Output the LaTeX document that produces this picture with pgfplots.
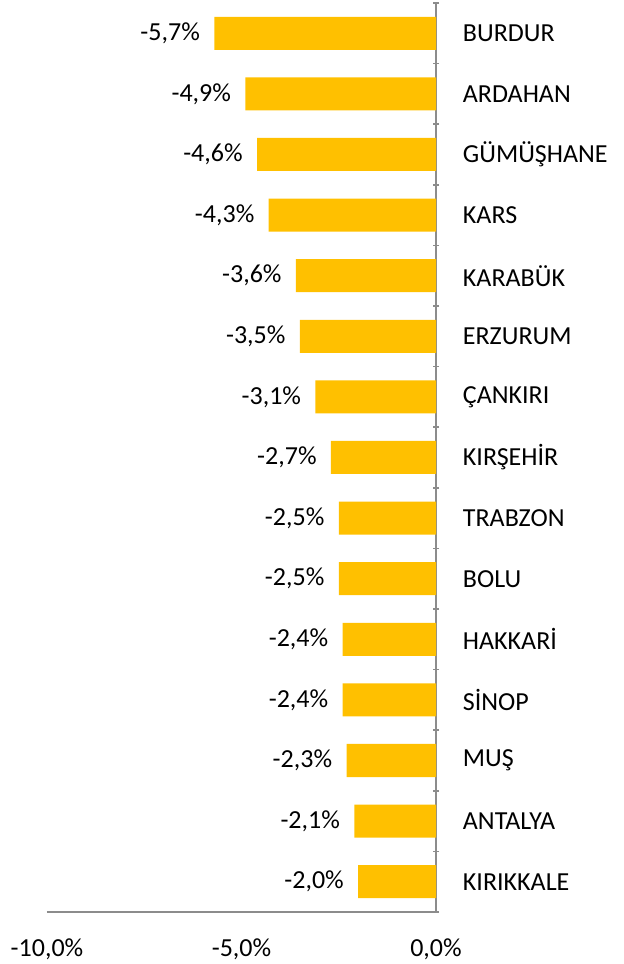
\documentclass[border=0pt]{standalone}
\usepackage{pgfplots}
\pgfplotsset{compat=1.18}
\usepackage{fontspec}
\setmainfont{Carlito}
\definecolor{barfill}{HTML}{FFC000}
\definecolor{axgray}{HTML}{8C8C8C}
\begin{document}
\begin{tikzpicture}
\begin{axis}[
    width=194.5pt, height=454.5pt, scale only axis,
    xmin=-10, xmax=0, ymin=0.5, ymax=15.5,
    axis x line*=bottom, axis y line*=right,
    axis line style={axgray, line width=0.75pt},
    xtick={-10,-5,0},
    xticklabels={{-10,0\%},{-5,0\%},{0,0\%}},
    major x tick style={draw=none},
    xticklabel style={anchor=north, inner sep=0pt, yshift=-11pt},
    ytick={1,...,15},
    yticklabels={KIRIKKALE,ANTALYA,MUŞ,SİNOP,HAKKARİ,BOLU,TRABZON,KIRŞEHİR,ÇANKIRI,ERZURUM,KARABÜK,KARS,GÜMÜŞHANE,ARDAHAN,BURDUR},
    major y tick style={draw=none},
    minor ytick={0.5,1.5,...,15.5},
    tick align=center,
    minor tick length=3pt,
    minor y tick style={axgray, line width=0.75pt, xshift=-1.5pt},
    yticklabel style={anchor=west, inner sep=0pt, xshift=9pt},
    tick label style={font=\fontsize{13}{15}\selectfont, text=black},
    xbar, bar width=16.5pt,
    point meta=x,
    nodes near coords={\pgfmathprintnumber[fixed, fixed zerofill, precision=1, use comma, assume math mode=true]{\pgfplotspointmeta}\%},
    every node near coord/.append style={anchor=east, inner sep=0pt, xshift=-7pt, font=\fontsize{13}{15}\selectfont, text=black},
]
\addplot[fill=barfill, draw=none] coordinates {
    (-2.0,1) (-2.1,2) (-2.3,3) (-2.4,4) (-2.4,5)
    (-2.5,6) (-2.5,7) (-2.7,8) (-3.1,9) (-3.5,10)
    (-3.6,11) (-4.3,12) (-4.6,13) (-4.9,14) (-5.7,15)
};
\end{axis}
\path[use as bounding box] (-23.5pt,-26pt) rectangle (288pt,456pt);
\end{tikzpicture}
\end{document}
